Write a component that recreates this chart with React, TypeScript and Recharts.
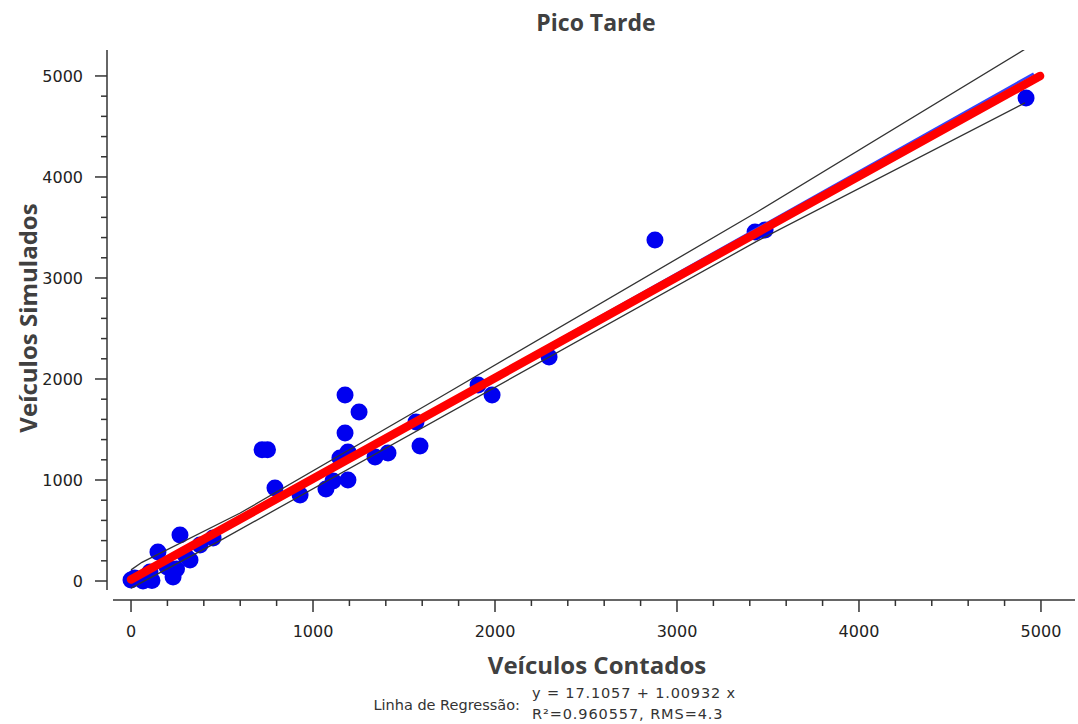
import { ScatterChart, Scatter, XAxis, YAxis, ReferenceLine } from "recharts";

// counted (x) vs simulated (y) volumes
const countedVehicles = [
  0, 20, 66, 115, 104, 148, 198, 231, 250, 269, 297, 324, 379, 451,
  720, 750, 791, 929, 1071, 1110, 1192, 1148, 1192, 1176, 1176, 1253, 1341, 1412,
  1566, 1588, 1907, 1984, 2297, 2879, 3429, 3484, 4918,
];
const simulatedVehicles = [
  10, 30, 0, 5, 89, 287, 139, 40, 120, 455, 257, 208, 356, 426,
  1300, 1300, 921, 851, 911, 990, 1000, 1218, 1277, 1465, 1842, 1673, 1228, 1267,
  1574, 1337, 1941, 1842, 2218, 3376, 3455, 3475, 4782,
];

// tolerance band lines (black), regression line (blue), reference diagonal (red)
const upperBandX = [0, 60, 600, 1700, 3440, 4923];
const upperBandY = [110, 185, 673, 1822, 3653, 5277];
const lowerBandX = [0, 489, 3440, 4912];
const lowerBandY = [-70, 400, 3365, 4733];
const regressionX = [0, 4960];
const regressionY = [17, 5023];
const diagonalX = [0, 4995];
const diagonalY = [15, 5000];

const axisTicks = [
  0, 200, 400, 600, 800, 1000, 1200, 1400, 1600, 1800, 2000, 2200, 2400, 2600,
  2800, 3000, 3200, 3400, 3600, 3800, 4000, 4200, 4400, 4600, 4800, 5000,
];

const X_MIN = -132;
const X_MAX = 5187;
const Y_MIN = -188;
const Y_MAX = 5257;

const toPoints = (xs: number[], ys: number[]) => xs.map((x, i) => ({ x, y: ys[i] }));

const points = toPoints(countedVehicles, simulatedVehicles);
const upperBand = toPoints(upperBandX, upperBandY);
const lowerBand = toPoints(lowerBandX, lowerBandY);
const regression = toPoints(regressionX, regressionY);
const diagonal = toPoints(diagonalX, diagonalY);

const tickFont = { fontFamily: "DejaVu Sans", fontSize: 16, fill: "#222" };
const titleFont = { fontFamily: "Open Sans", fontWeight: 700, fill: "#404040" };

function Dot(props: any) {
  return <circle cx={props.cx} cy={props.cy} r={8.5} fill="#0000f0" />;
}

const NoShape = () => null;

function XTick({ x, y, payload }: any) {
  const major = payload.value % 1000 === 0;
  return (
    <g>
      <line x1={x} x2={x} y1={y} y2={y + (major ? 12 : 6)} stroke="#333" strokeWidth={1.5} />
      {major && (
        <text x={x} y={y + 37} textAnchor="middle" {...tickFont}>
          {payload.value}
        </text>
      )}
    </g>
  );
}

function YTick({ x, y, payload }: any) {
  const major = payload.value % 1000 === 0;
  return (
    <g>
      <line x1={x - (major ? 12 : 6)} x2={x} y1={y} y2={y} stroke="#333" strokeWidth={1.5} />
      {major && (
        <text x={x - 24} y={y + 6} textAnchor="end" {...tickFont}>
          {payload.value}
        </text>
      )}
    </g>
  );
}

export default function App() {
  return (
    <div style={{ position: "absolute", left: 0, top: 0, width: 1078, height: 724, background: "#fff" }}>
      <ScatterChart width={1078} height={724} margin={{ top: 50, right: 3, bottom: 0, left: 0 }}>
        <XAxis
          type="number"
          dataKey="x"
          domain={[X_MIN, X_MAX]}
          ticks={axisTicks}
          interval={0}
          allowDataOverflow
          axisLine={false}
          tickLine={false}
          tickSize={0}
          tickMargin={0}
          tick={<XTick />}
          height={124}
        />
        <YAxis
          type="number"
          dataKey="y"
          domain={[Y_MIN, Y_MAX]}
          ticks={axisTicks}
          interval={0}
          allowDataOverflow
          axisLine={false}
          tickLine={false}
          tickSize={0}
          tickMargin={0}
          tick={<YTick />}
          width={107}
        />
        <ReferenceLine
          segment={[{ x: -99, y: Y_MIN }, { x: X_MAX, y: Y_MIN }]}
          stroke="#333"
          strokeWidth={1.5}
          ifOverflow="visible"
        />
        <ReferenceLine
          segment={[{ x: X_MIN, y: -89 }, { x: X_MIN, y: Y_MAX }]}
          stroke="#333"
          strokeWidth={1.5}
          ifOverflow="visible"
        />
        <Scatter data={points} shape={<Dot />} isAnimationActive={false} />
        <Scatter data={upperBand} line={{ stroke: "#333", strokeWidth: 1.3 }} shape={NoShape} isAnimationActive={false} />
        <Scatter data={lowerBand} line={{ stroke: "#333", strokeWidth: 1.3 }} shape={NoShape} isAnimationActive={false} />
        <Scatter data={regression} line={{ stroke: "#3344ff", strokeWidth: 2.5 }} shape={NoShape} isAnimationActive={false} />
        <Scatter
          data={diagonal}
          line={{ stroke: "#ff0000", strokeWidth: 8.5, strokeLinecap: "round" }}
          shape={NoShape}
          isAnimationActive={false}
        />
      </ScatterChart>
      <svg width={1078} height={724} style={{ position: "absolute", left: 0, top: 0, pointerEvents: "none" }}>
        <text x={596} y={31} textAnchor="middle" fontSize={23} {...titleFont}>
          Pico Tarde
        </text>
        <text x={597} y={674} textAnchor="middle" fontSize={24} {...titleFont}>
          Veículos Contados
        </text>
        <text x={37} y={318} textAnchor="middle" fontSize={24} transform="rotate(-90 37 318)" {...titleFont}>
          Veículos Simulados
        </text>
        <text x={520} y={710} textAnchor="end" fontFamily="DejaVu Sans" fontSize={14.5} fill="#333">
          Linha de Regressão:
        </text>
        <text x={532} y={698} fontFamily="DejaVu Sans" fontSize={14.5} letterSpacing={0.85} fill="#333">
          y = 17.1057 + 1.00932 x
        </text>
        <text x={532} y={719} fontFamily="DejaVu Sans" fontSize={14.5} letterSpacing={0.9} fill="#333">
          R²=0.960557, RMS=4.3
        </text>
      </svg>
    </div>
  );
}
